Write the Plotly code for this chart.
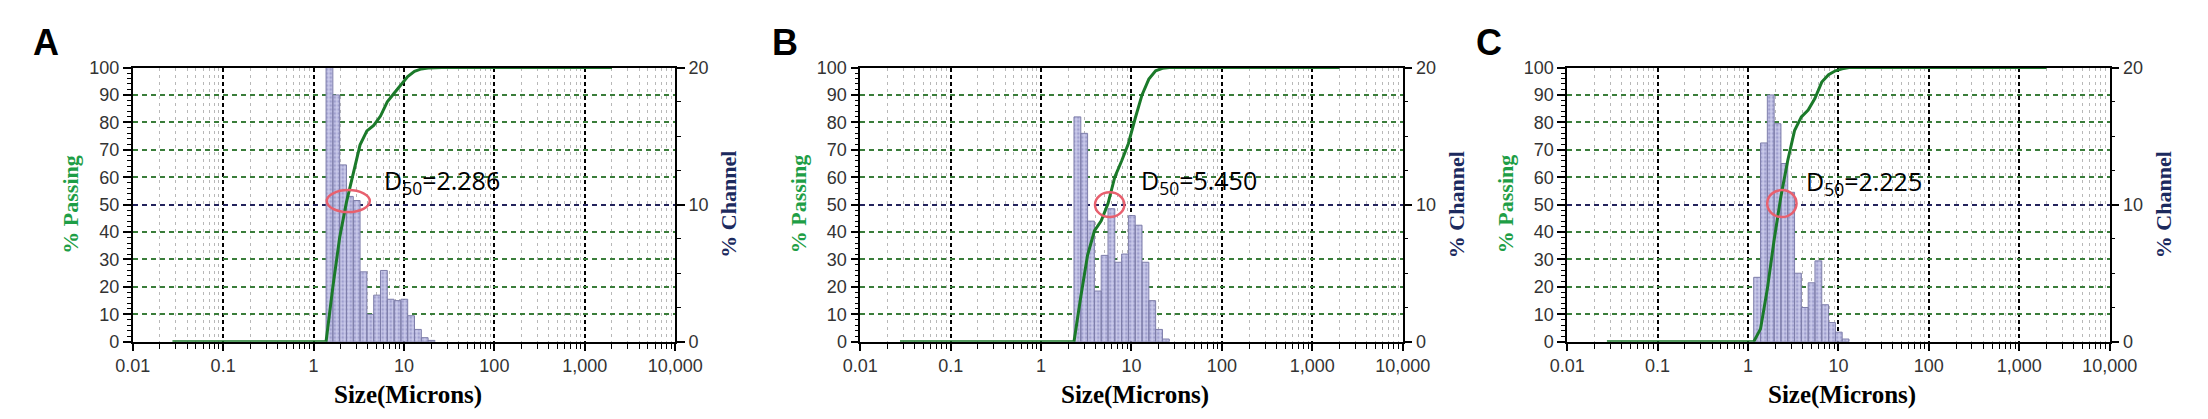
import numpy as np
import plotly.graph_objects as go

# Microtrac channel boundaries (microns)
channel_edges = [1.156, 1.375, 1.635, 1.945, 2.312, 2.750, 3.270, 3.889, 4.625,
                 5.500, 6.541, 7.778, 9.250, 11.00, 13.08, 15.56, 18.50, 22.00, 26.16]
size_min = 0.0275
size_max = 2000

# % Channel for each band (band i runs from channel_edges[i] to channel_edges[i+1])
channel_a = [0, 20.0, 18.0, 12.9, 10.6, 10.3, 5.1, 2.0, 3.4, 5.2, 3.1, 3.0, 3.1, 1.9, 0.9, 0.3, 0.1, 0]
channel_b = [0, 0, 0, 0, 16.4, 15.2, 8.8, 3.7, 6.3, 9.7, 5.8, 6.4, 9.2, 8.5, 5.8, 3.0, 0.9, 0.2]
channel_c = [4.7, 14.5, 18.0, 15.9, 13.0, 10.9, 5.0, 2.5, 4.3, 5.9, 2.7, 1.4, 0.7, 0.2, 0, 0, 0, 0]

# % Passing at each channel boundary
passing_a = [0, 0, 20.0, 38.0, 50.9, 61.5, 71.8, 76.9, 78.9, 82.3, 87.5, 90.6, 93.6, 96.7, 98.6, 99.5, 99.8, 100, 100]
passing_b = [0, 0, 0, 0, 0, 16.4, 31.6, 40.4, 44.1, 50.4, 60.1, 65.9, 72.3, 81.5, 90.0, 95.8, 98.8, 99.7, 100]
passing_c = [0, 4.7, 19.2, 37.2, 53.1, 66.1, 77.0, 82.0, 84.5, 88.8, 94.7, 97.4, 98.8, 99.5, 100, 100, 100, 100, 100]

panel_letters = ["A", "B", "C"]
d50_values = ["2.286", "5.450", "2.225"]

x_ticks = [0.01, 0.1, 1, 10, 100, 1000, 10000]
x_labels = ["0.01", "0.1", "1", "10", "100", "1,000", "10,000"]

# ---- layout (pixels in a 2208x419 page)
W, H = 2208, 419
PLOT_L = [109, 852, 1574]
PLOT_W = 554
PLOT_T, PLOT_B = 52, 340
LETTER_X = [5, 760, 1479]

# D50 label (left edge, microns / % passing)
label_x = [5.75, 12.2, 4.14]
label_y = [58.6, 58.5, 58.2]
# red ring around the 50% point: x range (microns), y range (% passing)
ring_x0 = [1.40, 3.95, 1.63]
ring_x1 = [4.19, 8.34, 3.44]
ring_y0 = [47.3, 45.5, 45.5]
ring_y1 = [55.3, 54.5, 55.3]

GREEN = "#1e9e46"
NAVY = "#1c2a5e"
tick_font = dict(family="Liberation Sans, Arial", size=18, color="#333333")
title_font = "Liberation Serif, Times New Roman, serif"

minor_x = [m * 10.0 ** d for d in range(-2, 4) for m in range(2, 10)]

fig = go.Figure()
layout = {}
annotations = []
shapes = []

panels = [(channel_a, passing_a), (channel_b, passing_b), (channel_c, passing_c)]
for i, (chan, passing) in enumerate(panels):
    xa = "x" if i == 0 else f"x{i + 1}"
    n = 3 * i + 1
    y_pass = "y" if n == 1 else f"y{n}"
    y_chan = f"y{n + 1}"
    y_curve = f"y{n + 2}"

    # histogram bars as closed rectangles on the log axis
    bx, by = [], []
    for lo, hi, v in zip(channel_edges[:-1], channel_edges[1:], chan):
        if v > 0:
            bx += [lo, lo, hi, hi, lo, None]
            by += [0, v, v, 0, 0, None]
    fig.add_trace(go.Scatter(
        x=bx, y=by, xaxis=xa, yaxis=y_chan, mode="lines", fill="toself",
        fillcolor="#c4c4e6",
        fillpattern=dict(shape=".", fgcolor="#7474b2", bgcolor="#cacaea", size=4, solidity=0.4),
        line=dict(color="#7e7eaa", width=1), hoverinfo="skip"))

    fig.add_trace(go.Scatter(
        x=[size_min] + channel_edges + [size_max], y=[0] + passing + [100],
        xaxis=xa, yaxis=y_curve, mode="lines",
        line=dict(color="#1b7a2a", width=3)))

    x0 = PLOT_L[i] / W
    x1 = (PLOT_L[i] + PLOT_W) / W
    ydom = [1 - PLOT_B / H, 1 - PLOT_T / H]
    xkey = "xaxis" if i == 0 else f"xaxis{i + 1}"
    ykey = lambda k: "yaxis" if k == 1 else f"yaxis{k}"

    layout[xkey] = dict(
        type="log", range=[-2, 4], domain=[x0, x1], anchor=y_pass,
        tickmode="array", tickvals=x_ticks, ticktext=x_labels,
        ticks="outside", ticklen=7, tickwidth=1.5, tickcolor="black",
        showline=True, linecolor="black", linewidth=1.5, mirror=True,
        showgrid=True, gridcolor="black", gridwidth=1.5, griddash="4px,3px",
        minor=dict(tickmode="array", tickvals=minor_x, ticks="outside", ticklen=5,
                   tickwidth=1, tickcolor="black", showgrid=True,
                   gridcolor="#b8b8b8", gridwidth=1, griddash="3px,4px"),
        tickfont=tick_font, zeroline=False)
    layout[ykey(n)] = dict(
        range=[0, 100], domain=ydom, anchor=xa,
        tick0=0, dtick=10, ticks="outside", ticklen=8, tickwidth=1.5, tickcolor="black",
        minor=dict(dtick=2, ticks="outside", ticklen=4, tickwidth=1, tickcolor="black", showgrid=False),
        showline=True, linecolor="black", linewidth=1.5,
        showgrid=True, gridcolor="#3a7d3a", gridwidth=1.5, griddash="5px,4px",
        zeroline=False, tickfont=tick_font)
    layout[ykey(n + 1)] = dict(
        range=[0, 20], overlaying=y_pass, side="right", anchor=xa,
        tickmode="array", tickvals=[0, 10, 20], ticks="outside", ticklen=8, tickwidth=1.5,
        tickcolor="black",
        minor=dict(tickmode="linear", tick0=0, dtick=2.5, ticks="outside", ticklen=4, tickwidth=1,
                   tickcolor="black", showgrid=False),
        showline=True, linecolor="black", linewidth=1.5,
        showgrid=True, gridcolor="#23235c", gridwidth=1.5, griddash="5px,4px",
        zeroline=False, tickfont=tick_font)
    layout[ykey(n + 2)] = dict(range=[0, 100], overlaying=y_pass, anchor=xa, visible=False)

    mid_y = 1 - (PLOT_T + PLOT_B) / 2 / H
    annotations += [
        dict(text="% Passing", x=(PLOT_L[i] - 63) / W, y=mid_y, xref="paper", yref="paper",
             textangle=-90, showarrow=False, xanchor="center", yanchor="middle",
             font=dict(family=title_font, size=22, color=GREEN, weight="bold")),
        dict(text="% Channel", x=(PLOT_L[i] + PLOT_W + 55) / W, y=mid_y, xref="paper", yref="paper",
             textangle=-90, showarrow=False, xanchor="center", yanchor="middle",
             font=dict(family=title_font, size=22, color=NAVY, weight="bold")),
        dict(text="Size(Microns)", x=(PLOT_L[i] + PLOT_W / 2 + 4) / W, y=1 - 396 / H,
             xref="paper", yref="paper", showarrow=False, xanchor="center", yanchor="middle",
             font=dict(family=title_font, size=25, color="black", weight="bold")),
        dict(text=panel_letters[i], x=LETTER_X[i] / W, y=1 - 26 / H, xref="paper", yref="paper",
             xanchor="left", yanchor="middle", showarrow=False,
             font=dict(family="Liberation Sans, Arial", size=36, color="black", weight="bold")),
        dict(text="D<sub>50</sub>=" + d50_values[i], x=np.log10(label_x[i]), y=label_y[i],
             xref=xa, yref=y_pass, xanchor="left", yanchor="middle", showarrow=False,
             font=dict(family="Open Sans, sans-serif", size=25, color="black")),
    ]
    shapes.append(dict(
        type="circle", xref=xa, yref=y_pass,
        x0=ring_x0[i], x1=ring_x1[i], y0=ring_y0[i], y1=ring_y1[i],
        line=dict(color="#e8606e", width=2.5)))

fig.update_layout(
    width=W, height=H, margin=dict(l=0, r=0, t=0, b=0),
    paper_bgcolor="white", plot_bgcolor="white", showlegend=False,
    annotations=annotations, shapes=shapes, **layout)

fig.write_html("out.html")
